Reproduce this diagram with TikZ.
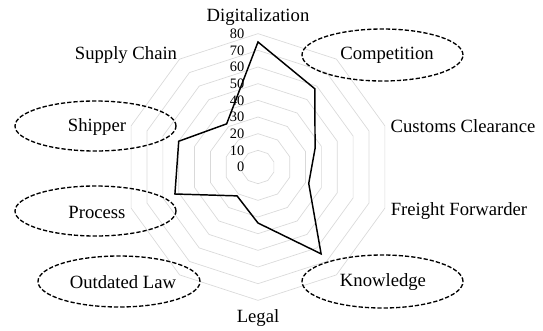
\documentclass[tikz,border=0pt]{standalone}
\usepackage{fontspec}
\setmainfont{Liberation Serif}
\usepackage{tikz}
\usetikzlibrary{arrows}

\tikzset{
  factor/.style={font=\fontsize{14}{16}\selectfont, inner sep=0pt},
  tick/.style={font=\fontsize{10.8}{12}\selectfont, inner sep=0pt, anchor=east},
  gridline/.style={color=black!15, line width=0.5pt},
  oval/.style={line width=1pt, dash pattern=on 3.2pt off 1.5pt},
  series/.style={line width=1.1pt, line join=miter}
}

\begin{document}
\begin{tikzpicture}[x=0.75pt,y=0.75pt]
\useasboundingbox (-258,-163) rectangle (285,167);
% grid rings, 10 to 80
\foreach \r in {1,...,8}
  \draw[gridline] (90:\r*16.67) \foreach \a in {1,...,9}{ -- (90-36*\a:\r*16.67)} -- cycle;
% scale labels
\foreach \v in {0,10,...,80}
  \node[tick] (tick\v) at (-13.5,\v*1.667) {\v};
% data
\draw[series] (90:75*1.667) -- (54:58*1.667) -- (18:36*1.667) -- (-18:32*1.667)
  -- (-54:64.4*1.667) -- (-90:33.6*1.667) -- (-126:21.4*1.667) -- (-162:52.4*1.667)
  -- (162:50*1.667) -- (126:32*1.667) -- cycle;
% axis labels
\node[factor] (digital) at (0,150) {Digitalization};
\node[factor] (competition) at (129,112) {Competition};
\node[factor] (customs) at (205,41) {Customs Clearance};
\node[factor] (forwarder) at (201,-44) {Freight Forwarder};
\node[factor] (knowledge) at (125,-115) {Knowledge};
\node[factor] (legal) at (0,-151) {Legal};
\node[factor] (outdated) at (-135,-115) {Outdated Law};
\node[factor] (process) at (-161,-45) {Process};
\node[factor] (shipper) at (-161,40) {Shipper};
\node[factor] (supply) at (-132,112) {Supply Chain};
% dashed ovals
\draw[oval] (124.5,112) ellipse (80.5 and 26);
\draw[oval] (124.5,-114.5) ellipse (80.5 and 26.5);
\draw[oval] (-139,-114.5) ellipse (81 and 25.5);
\draw[oval] (-162.5,-44) ellipse (80.5 and 25);
\draw[oval] (-162.5,41) ellipse (80.5 and 25);
\end{tikzpicture}
\end{document}
